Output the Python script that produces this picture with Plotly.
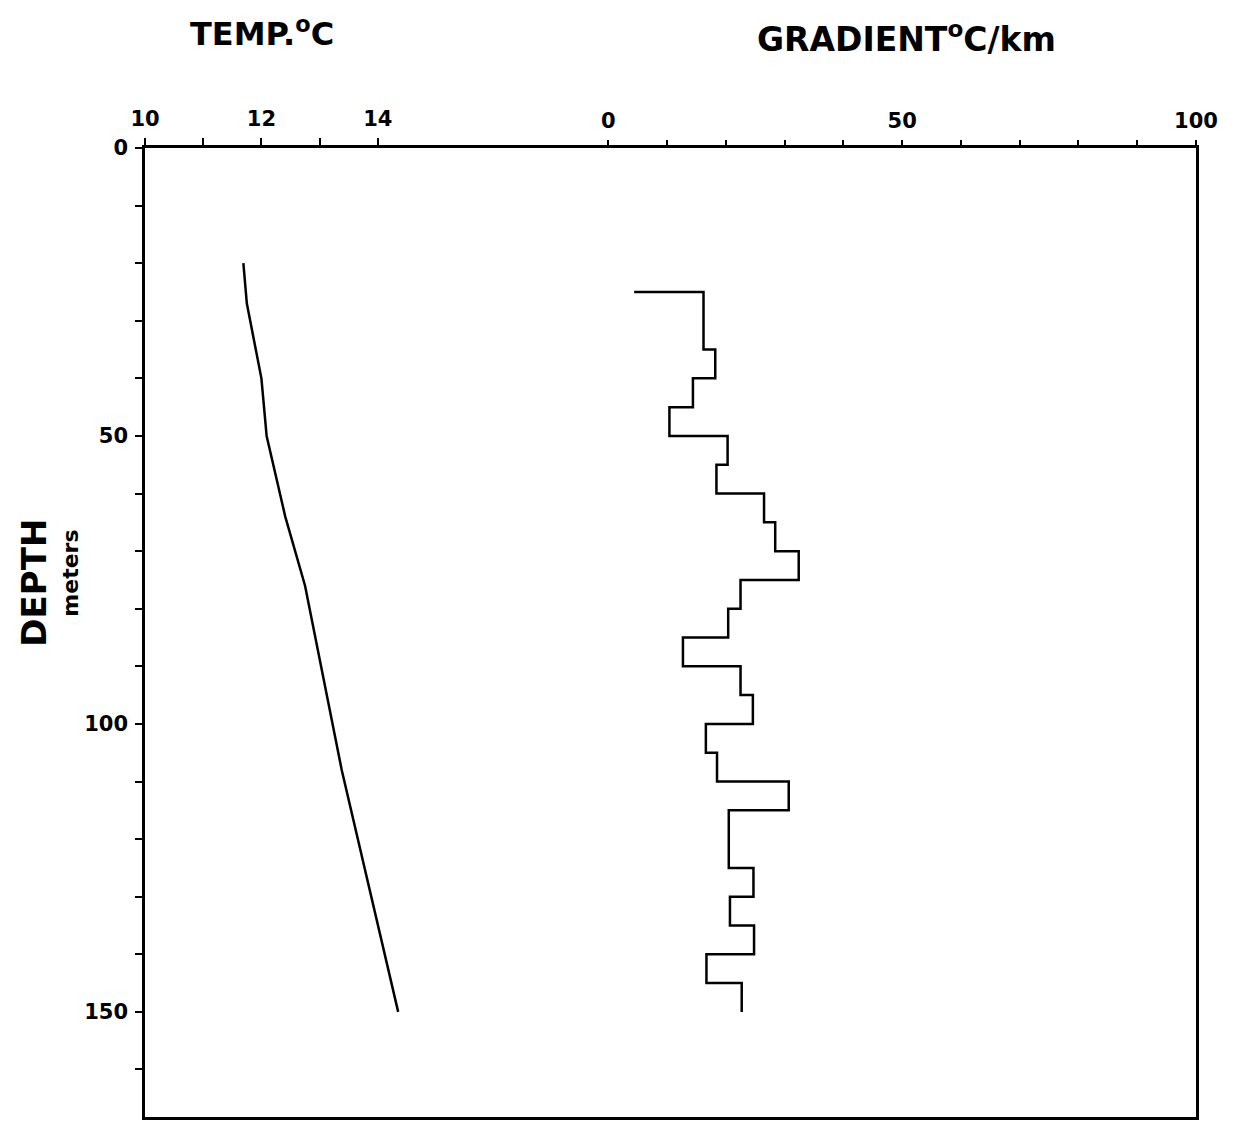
import plotly.graph_objects as go

# temperature log
temp_depth = [20, 27, 40, 50, 64, 76, 108, 150]
temp_c = [11.69, 11.75, 12.00, 12.09, 12.41, 12.75, 13.38, 14.35]

# interval gradient, plotted as steps (value, bottom depth of interval)
grad_depth = [25, 35, 40, 45, 50, 55, 60, 65, 70, 75, 80, 85, 90, 95, 100,
              105, 110, 115, 125, 130, 135, 140, 145, 150]
grad_val = [4.4, 16.2, 18.2, 14.4, 10.4, 20.3, 18.4, 26.5, 28.4, 32.4, 22.5,
            20.4, 12.7, 22.5, 24.6, 16.6, 18.5, 30.7, 20.5, 24.7, 20.7, 24.8,
            16.7, 22.7]

temp_ticks = [10, 12, 14]
temp_minor = [11, 13]
grad_ticks = [0, 50, 100]
grad_minor = [10, 20, 30, 40, 60, 70, 80, 90]
depth_ticks = [0, 50, 100, 150]
depth_minor = [10, 20, 30, 40, 60, 70, 80, 90, 110, 120, 130, 140, 160]

font = "DejaVu Sans"
tick_font = dict(family=font, size=21, color="black", weight="bold")

# page has an 8px body margin; plot box is at x 145..1196, y 148..1120
L, T, R, B = 137, 140, 33, 0
W, H = 1221, 1112
px0, py0 = 8 + L, 8 + T
pw, ph = W - L - R, H - T - B


def to_paper(x, y):
    return (x - px0) / pw, 1 - (y - py0) / ph


fig = go.Figure()
fig.add_trace(go.Scatter(
    x=temp_c, y=temp_depth, mode="lines", xaxis="x", yaxis="y",
    line=dict(color="black", width=2.5), showlegend=False
))
fig.add_trace(go.Scatter(
    x=grad_val, y=grad_depth, mode="lines", xaxis="x2", yaxis="y",
    line=dict(color="black", width=2.5, shape="hv"), showlegend=False
))

axis_common = dict(ticks="outside", ticklen=7, tickwidth=2, tickcolor="black",
                   showgrid=False, zeroline=False, tickfont=tick_font, tickmode="array")


def minor(vals):
    return dict(tickmode="array", tickvals=vals, ticks="outside", ticklen=7,
                tickwidth=2, tickcolor="black", showgrid=False)


fig.update_layout(
    width=W, height=H,
    margin=dict(l=L, r=R, t=T, b=B),
    paper_bgcolor="white", plot_bgcolor="white",
    xaxis=dict(side="top", range=[10, 10 + pw / 58.2], tickvals=temp_ticks,
               minor=minor(temp_minor), showline=True, linecolor="black",
               linewidth=2.5, mirror=True, ticklabelstandoff=4, **axis_common),
    xaxis2=dict(side="top", overlaying="x", anchor="y", range=[100 - pw / 5.877, 100],
                tickvals=grad_ticks, minor=minor(grad_minor), showline=False,
                ticklabelstandoff=4, **axis_common),
    yaxis=dict(range=[ph / 5.777, 0], tickvals=depth_ticks, minor=minor(depth_minor),
               showline=True, linecolor="black", linewidth=2.5, mirror=True,
               ticklabelstandoff=3, **axis_common),
)

titles = [
    ("<b>TEMP.<sup>o</sup>C</b>", 262, 32, 32, 0),
    ("<b>GRADIENT<sup>o</sup>C/km</b>", 906, 37, 33, 0),
    ("<b>DEPTH</b>", 34, 584, 34, -90),
    ("<b>meters</b>", 71, 575, 22, -90),
]
for text, x, y, size, angle in titles:
    ax, ay = to_paper(x, y)
    fig.add_annotation(text=text, x=ax, y=ay, xref="paper", yref="paper",
                       xanchor="center", yanchor="middle", showarrow=False,
                       textangle=angle, font=dict(family=font, size=size, color="black"))

fig.write_html("out.html")
